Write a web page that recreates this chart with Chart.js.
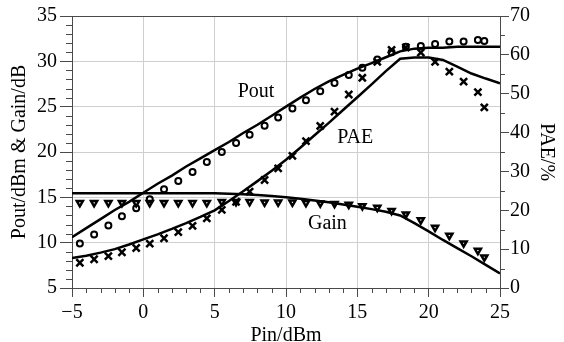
<!DOCTYPE html>
<html><head><meta charset="utf-8">
<script src="https://cdn.jsdelivr.net/npm/chart.js@4/dist/chart.umd.min.js"></script>
<style>html,body{margin:0;padding:0;background:#fff}</style>
</head><body>
<canvas id="c" width="564" height="342" style="display:block;width:564px;height:342px"></canvas>
<script>
// measured points (Pin in dBm)
const pinMeas = [-4.45,-3.45,-2.45,-1.5,-0.5,0.45,1.45,2.45,3.45,4.45,5.5,6.5,7.45,8.5,9.45,10.45,11.4,12.4,13.4,14.4,15.35,16.4,17.4,18.4,19.45,20.45,21.45,22.45,23.45,23.9];
const poutMeas = [9.9,10.9,11.9,12.9,13.8,14.8,15.9,16.8,17.8,18.9,20.0,21.0,21.9,22.9,23.8,24.8,25.7,26.7,27.6,28.5,29.3,30.2,31.0,31.6,31.7,31.9,32.2,32.2,32.35,32.25];
const paeMeas = [6.5,7.4,8.2,9.2,10.3,11.4,12.8,14.4,16.0,17.9,20.1,22.2,24.8,27.8,30.8,34.0,37.8,41.7,45.4,49.8,54.1,58.2,61.3,61.9,60.6,58.2,55.7,53.1,50.4,46.5];
const gainMeas = [14.4,14.4,14.4,14.4,14.4,14.4,14.4,14.4,14.4,14.4,14.5,14.5,14.5,14.45,14.45,14.45,14.4,14.35,14.3,14.2,14.05,13.87,13.53,13.14,12.5,11.66,10.78,9.94,9.13,8.4];
// simulated curves
const pinSim = [-5,-4,-3,-2,-1,0,1,2,3,4,5,6,7,8,9,10,11,12,13,14,15,16,17,18,19,20,21,22,23,24,25];
const poutSim = [10.6,11.6,12.6,13.6,14.5,15.5,16.5,17.4,18.4,19.3,20.2,21.1,22.1,23.0,24.0,25.0,26.0,26.95,27.8,28.5,29.2,29.8,30.45,31.1,31.4,31.5,31.5,31.6,31.6,31.6,31.6];
const paeSim = [7.7,8.3,9.1,10.0,11.2,12.5,13.8,15.2,16.7,18.3,20.0,22.4,24.9,27.5,30.2,33.0,36.1,39.3,42.5,45.8,49.1,52.4,55.8,59.0,59.3,59.3,58.7,57.0,55.2,53.9,52.7];
const gainSim = [15.45,15.45,15.45,15.45,15.45,15.45,15.45,15.45,15.45,15.45,15.45,15.4,15.35,15.25,15.15,15.0,14.85,14.65,14.45,14.2,13.95,13.7,13.4,13.0,12.15,11.25,10.3,9.4,8.5,7.55,6.6];
// annotations [text, pin, left-axis value]
const curveLabels = [["Pout",7.9,26.6],["PAE",14.85,21.6],["Gain",12.9,12.1]];

const pts = (xs, ys) => xs.map((x,i)=>({x, y: ys[i]}));
const FONT = "'Liberation Serif','Times New Roman',serif";
const AX = '#4a4a4a', GRID = '#cfcfcf';

const extras = {
  id: 'extras',
  afterDraw(chart) {
    const {ctx, chartArea: a, scales} = chart;
    ctx.save();
    ctx.strokeStyle = AX; ctx.lineWidth = 1;
    ctx.beginPath();
    ctx.moveTo(a.left - 12, a.top + 0.5); ctx.lineTo(a.right, a.top + 0.5);
    for (let v = -5; v <= 25; v++) { if (v % 5) { const p = Math.round(scales.x.getPixelForValue(v)) + 0.5; ctx.moveTo(p, a.bottom); ctx.lineTo(p, a.bottom + 5); } }
    for (let v = 5; v <= 35; v++) { if (v % 5) { const p = Math.round(scales.y.getPixelForValue(v)) + 0.5; ctx.moveTo(a.left, p); ctx.lineTo(a.left - 6, p); } }
    for (let v = 5; v < 70; v += 10) { const p = Math.round(scales.y2.getPixelForValue(v)) + 0.5; ctx.moveTo(a.right, p); ctx.lineTo(a.right + 5, p); }
    ctx.stroke();
    ctx.fillStyle = '#000'; ctx.font = "20px " + FONT; ctx.textAlign = 'center'; ctx.textBaseline = 'middle';
    curveLabels.forEach(([t,x,y]) => ctx.fillText(t, scales.x.getPixelForValue(x), scales.y.getPixelForValue(y)));
    ctx.restore();
  }
};

new Chart(document.getElementById('c'), {
  data: {
    datasets: [
      {type:'line', data: pts(pinSim, poutSim), yAxisID:'y', borderColor:'#000', borderWidth:2.5, pointRadius:0, tension:0},
      {type:'line', data: pts(pinSim, paeSim), yAxisID:'y2', borderColor:'#000', borderWidth:2.5, pointRadius:0, tension:0},
      {type:'line', data: pts(pinSim, gainSim), yAxisID:'y', borderColor:'#000', borderWidth:2.5, pointRadius:0, tension:0},
      {type:'scatter', data: pts(pinMeas, poutMeas), yAxisID:'y', pointStyle:'circle', pointRadius:3, borderColor:'#000', backgroundColor:'rgba(0,0,0,0)', borderWidth:2},
      {type:'scatter', data: pts(pinMeas, paeMeas), yAxisID:'y2', pointStyle:'crossRot', pointRadius:5, borderColor:'#000', borderWidth:2.5},
      {type:'scatter', data: pts(pinMeas, gainMeas), yAxisID:'y', pointStyle:'triangle', rotation:180, pointRadius:3.5, borderColor:'#000', backgroundColor:'#fff', borderWidth:2.5}
    ]
  },
  options: {
    responsive:false, animation:false, devicePixelRatio:1,
    layout:{padding:{top:16,left:0,right:0,bottom:0}},
    plugins:{legend:{display:false}, tooltip:{enabled:false}},
    scales:{
      x:{type:'linear', position:'bottom', min:-5, max:25,
        ticks:{stepSize:5, color:'#000', font:{family:FONT,size:20}, padding:4, maxRotation:0,
          callback:v=>String(v).replace('-','\u2212')},
        grid:{color:GRID, tickColor:AX, tickLength:9, lineWidth:1},
        border:{color:AX, width:1},
        title:{display:true, text:'Pin/dBm', color:'#000', font:{family:FONT,size:20,lineHeight:0.6}, padding:{top:0,bottom:0}},
        afterFit:s=>{s.height=54;}
      },
      y:{type:'linear', position:'left', min:5, max:35,
        ticks:{stepSize:5, color:'#000', font:{family:FONT,size:20}, padding:3},
        grid:{color:GRID, tickColor:AX, tickLength:12},
        border:{color:AX, width:1},
        title:{display:true, text:'Pout/dBm & Gain/dB', color:'#000', font:{family:FONT,size:20,lineHeight:1.0}, padding:{top:10,bottom:0}},
        afterFit:s=>{s.width=72;}
      },
      y2:{type:'linear', position:'right', min:0, max:70,
        ticks:{stepSize:10, color:'#000', font:{family:FONT,size:20}, padding:1},
        grid:{drawOnChartArea:false, tickColor:AX, tickLength:9},
        border:{color:AX, width:1},
        title:{display:true, text:'PAE/%', color:'#000', font:{family:FONT,size:20,lineHeight:1.0}, padding:{top:8,bottom:0}},
        afterFit:s=>{s.width=64;}
      }
    }
  },
  plugins:[extras]
});
</script>
</body></html>
